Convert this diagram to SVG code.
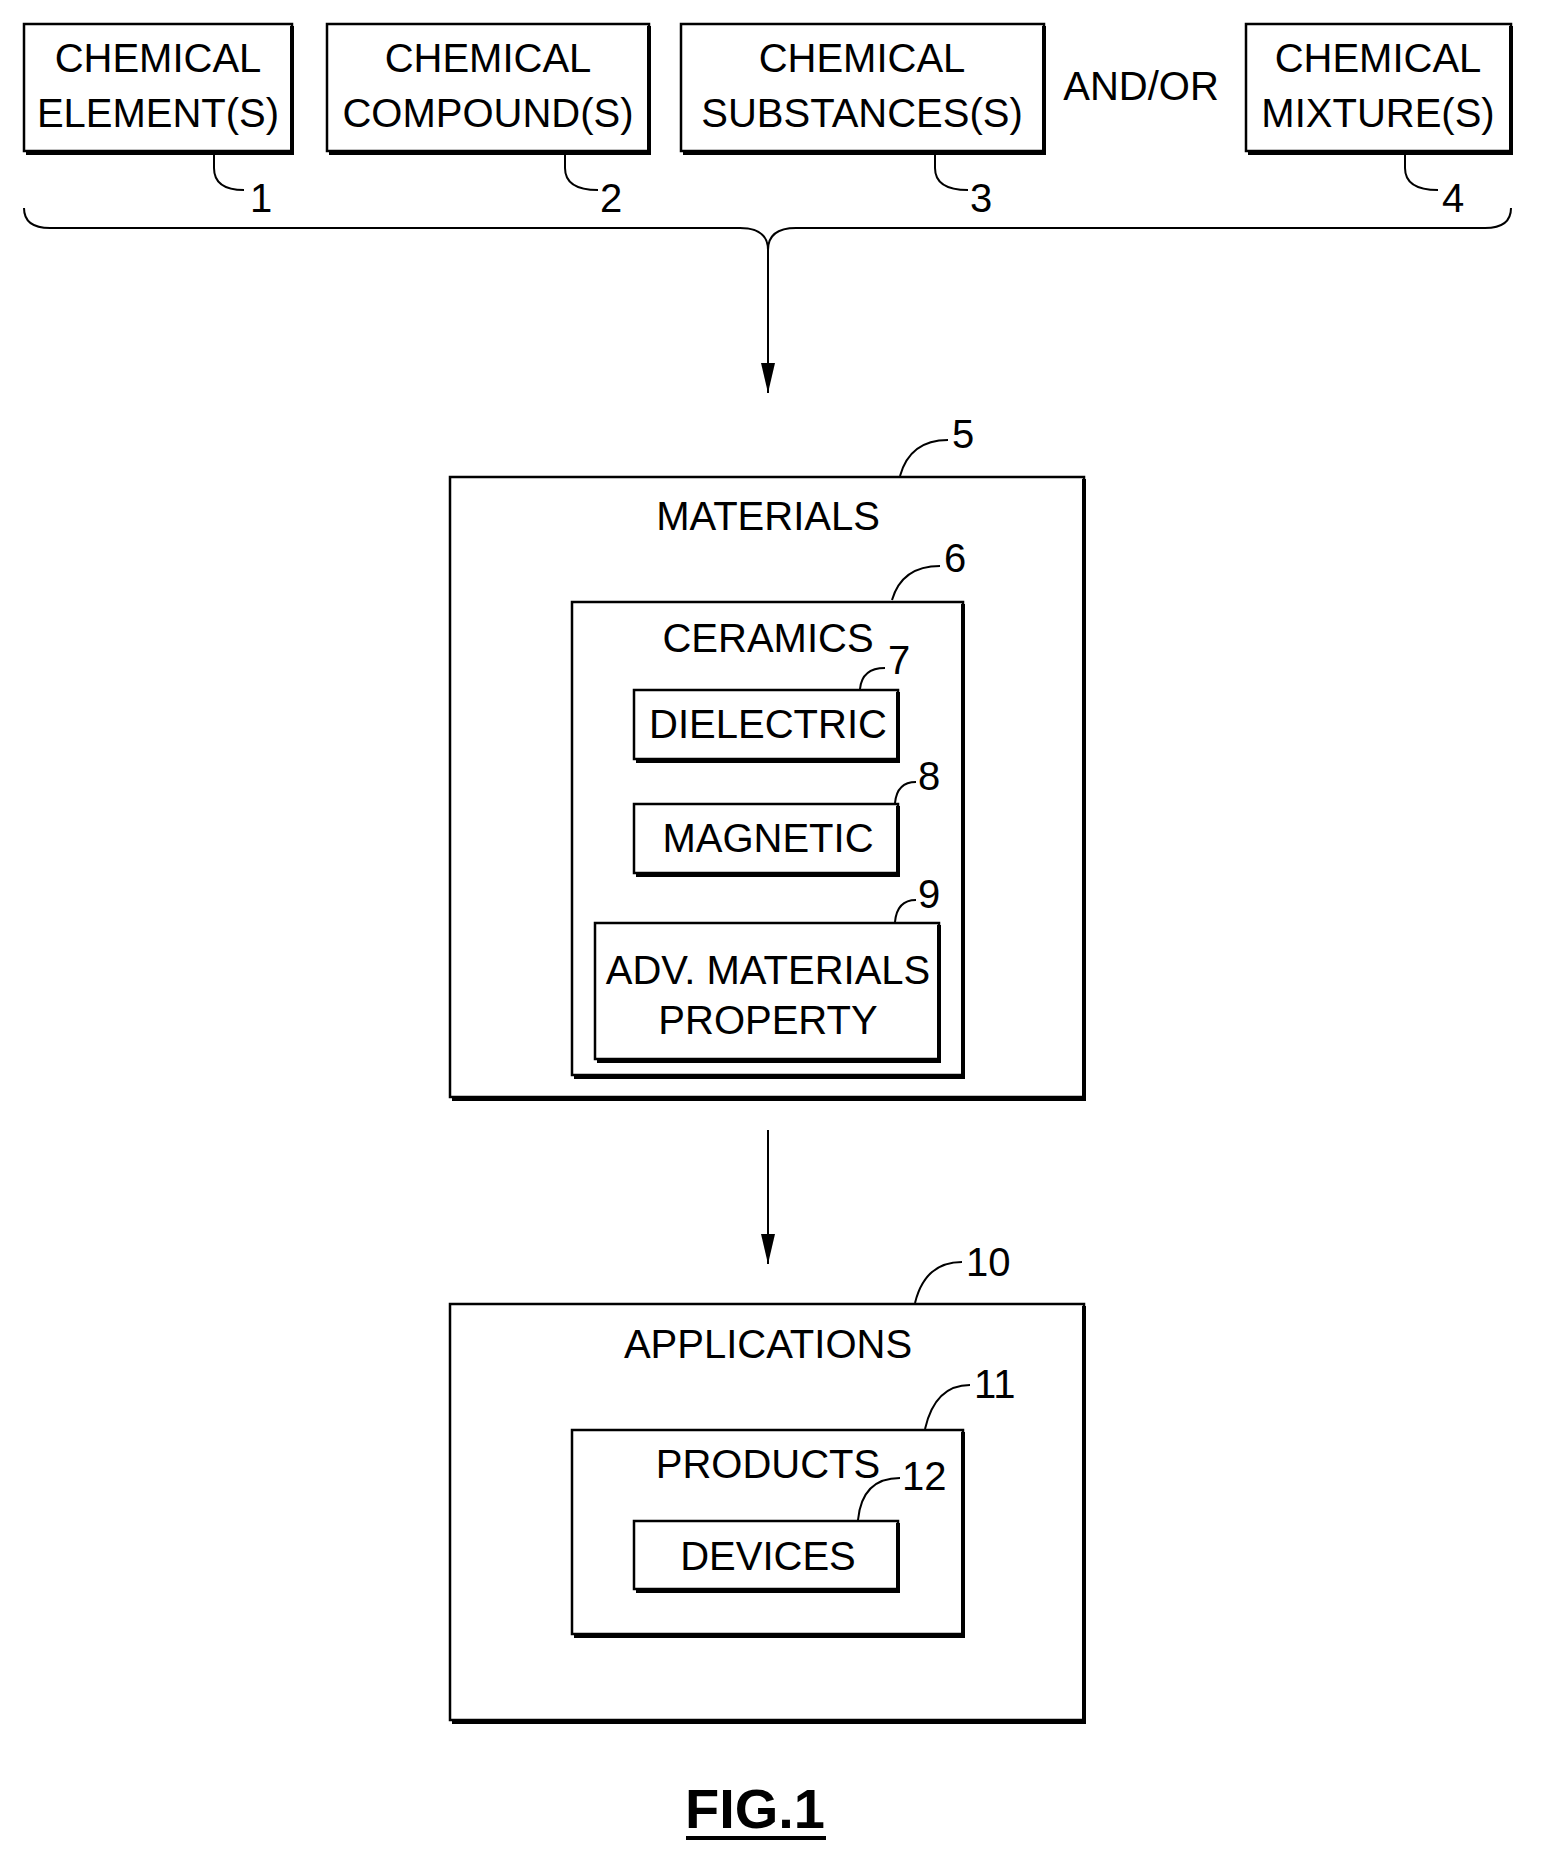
<svg xmlns="http://www.w3.org/2000/svg" width="1542" height="1875" viewBox="0 0 1542 1875">
<defs>
<style>
.b{fill:#fff;stroke:#000;stroke-width:2.5}
.sh{fill:none;stroke:#000;stroke-width:4}
.t{font-family:"Liberation Sans",Arial,sans-serif;font-size:40px;text-anchor:middle;fill:#000}
.n{font-family:"Liberation Sans",Arial,sans-serif;font-size:40px;fill:#000}
.l{fill:none;stroke:#000;stroke-width:2}
</style>
<marker id="ah" viewBox="0 0 30 14" refX="30" refY="7" markerWidth="30" markerHeight="14" orient="auto" markerUnits="userSpaceOnUse"><path d="M0,0 L30,7 L0,14 Z" fill="#000"/></marker>
</defs>
<rect width="1542" height="1875" fill="#fff"/>
<g id="n1"><rect class="b" x="24" y="24" width="268" height="127"/><path class="sh" d="M292,26 V153 H26"/>
<text class="t" x="158" y="72">CHEMICAL</text><text class="t" x="158" y="127">ELEMENT(S)</text>
<path class="l" d="M214,152 V168 Q214,190 244,190"/><text class="n" x="250" y="212">1</text></g>
<g id="n2"><rect class="b" x="327" y="24" width="322" height="127"/><path class="sh" d="M649,26 V153 H329"/>
<text class="t" x="488" y="72">CHEMICAL</text><text class="t" x="488" y="127">COMPOUND(S)</text>
<path class="l" d="M565,152 V168 Q565,190 598,190"/><text class="n" x="600" y="212">2</text></g>
<g id="n3"><rect class="b" x="681" y="24" width="363" height="127"/><path class="sh" d="M1044,26 V153 H683"/>
<text class="t" x="862" y="72">CHEMICAL</text><text class="t" x="862" y="127">SUBSTANCES(S)</text>
<path class="l" d="M935,152 V168 Q935,190 968,190"/><text class="n" x="970" y="212">3</text></g>
<text class="t" x="1141" y="100">AND/OR</text>
<g id="n4"><rect class="b" x="1246" y="24" width="265" height="127"/><path class="sh" d="M1511,26 V153 H1248"/>
<text class="t" x="1378" y="72">CHEMICAL</text><text class="t" x="1378" y="127">MIXTURE(S)</text>
<path class="l" d="M1405,152 V168 Q1405,190 1438,190"/><text class="n" x="1442" y="212">4</text></g>
<g id="connectors">
<path class="l" d="M24,208 Q24,228 50,228 H740 Q768,228 768,250 Q768,228 796,228 H1485 Q1511,228 1511,208"/>
<line class="l" x1="768" y1="250" x2="768" y2="393" marker-end="url(#ah)"/>
<line class="l" x1="768" y1="1130" x2="768" y2="1264" marker-end="url(#ah)"/>
</g>
<g id="n5"><rect class="b" x="450" y="477" width="634" height="620"/><path class="sh" d="M1084,479 V1099 H452"/>
<text class="t" x="768" y="530">MATERIALS</text>
<path class="l" d="M900,476 Q910,440 948,440"/><text class="n" x="952" y="448">5</text></g>
<g id="n6"><rect class="b" x="572" y="602" width="391" height="473"/><path class="sh" d="M963,604 V1077 H574"/>
<text class="t" x="768" y="652">CERAMICS</text>
<path class="l" d="M892,600 Q902,566 940,566"/><text class="n" x="944" y="572">6</text></g>
<g id="n7"><rect class="b" x="634" y="690" width="264" height="69"/><path class="sh" d="M898,692 V761 H636"/>
<text class="t" x="768" y="738">DIELECTRIC</text>
<path class="l" d="M860,689 Q862,668 885,668"/><text class="n" x="888" y="674">7</text></g>
<g id="n8"><rect class="b" x="634" y="804" width="264" height="69"/><path class="sh" d="M898,806 V875 H636"/>
<text class="t" x="768" y="852">MAGNETIC</text>
<path class="l" d="M895,803 Q897,782 916,782"/><text class="n" x="918" y="790">8</text></g>
<g id="n9"><rect class="b" x="595" y="923" width="344" height="136"/><path class="sh" d="M939,925 V1061 H597"/>
<text class="t" x="768" y="984">ADV. MATERIALS</text><text class="t" x="768" y="1034">PROPERTY</text>
<path class="l" d="M895,922 Q897,900 916,900"/><text class="n" x="918" y="908">9</text></g>
<g id="n10"><rect class="b" x="450" y="1304" width="634" height="416"/><path class="sh" d="M1084,1306 V1722 H452"/>
<text class="t" x="768" y="1358">APPLICATIONS</text>
<path class="l" d="M915,1303 Q925,1262 962,1262"/><text class="n" x="966" y="1276">10</text></g>
<g id="n11"><rect class="b" x="572" y="1430" width="391" height="204"/><path class="sh" d="M963,1432 V1636 H574"/>
<text class="t" x="768" y="1478">PRODUCTS</text>
<path class="l" d="M925,1429 Q935,1385 970,1385"/><text class="n" x="974" y="1398">11</text></g>
<g id="n12"><rect class="b" x="634" y="1521" width="264" height="68"/><path class="sh" d="M898,1523 V1591 H636"/>
<text class="t" x="768" y="1570">DEVICES</text>
<path class="l" d="M858,1520 Q862,1478 900,1478"/><text class="n" x="902" y="1490">12</text></g>
<text x="755" y="1828" style="font-family:'Liberation Sans',Arial,sans-serif;font-size:56px;font-weight:bold;text-anchor:middle">FIG.1</text>
<line x1="686" y1="1838" x2="826" y2="1838" stroke="#000" stroke-width="4"/>
</svg>
